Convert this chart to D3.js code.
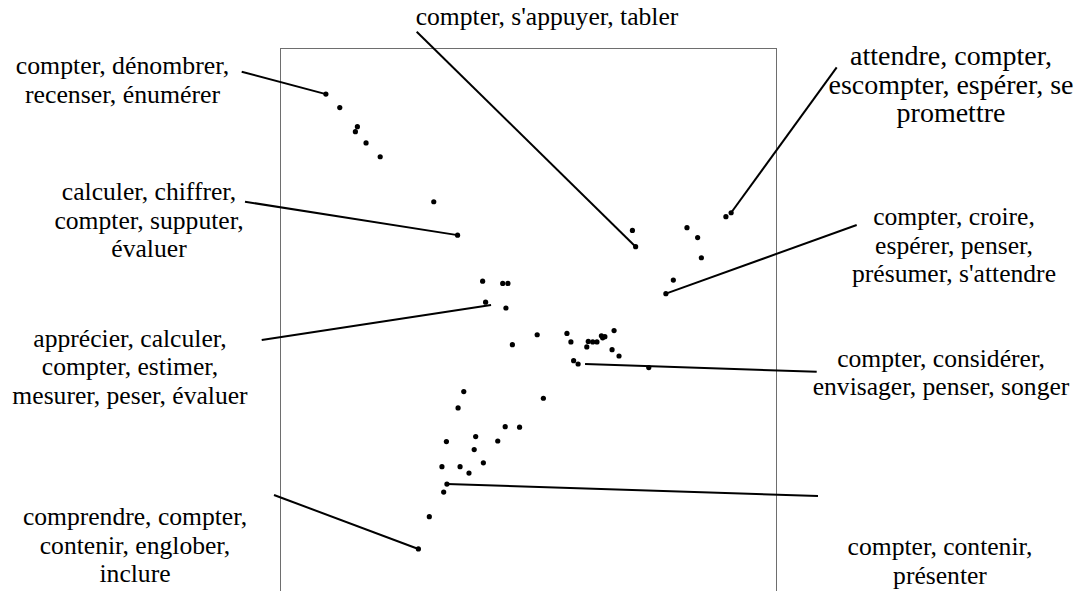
<!DOCTYPE html>
<html>
<head>
<meta charset="utf-8">
<script src="https://cdn.jsdelivr.net/npm/d3@7"></script>
<style>
  html, body { margin: 0; padding: 0; background: #fff; }
  svg { display: block; }
</style>
</head>
<body>
<div id="chart"></div>
<script>
// ---- data (two-dimensional coordinates of the verb senses) ----
const pointX = [-0.819, -0.763, -0.692, -0.700, -0.657, -0.600, -0.384, -0.288,
  0.417, 0.430, 0.637, 0.680, 0.695, 0.794, 0.815, 0.582, 0.552,
  -0.187, -0.106, -0.085, -0.175, -0.093, -0.067, 0.033,
  0.153, 0.169, 0.233, 0.239, 0.257, 0.274, 0.292, 0.306, 0.297, 0.343, 0.335, 0.363,
  0.180, 0.198, 0.483,
  -0.263, 0.058, -0.286, -0.096, -0.038, -0.333, -0.215, -0.221, -0.126,
  -0.351, -0.278, -0.242, -0.184, -0.331, -0.344, -0.402, -0.446];
const pointY = [0.833, 0.784, 0.715, 0.697, 0.656, 0.606, 0.443, 0.322,
  0.339, 0.280, 0.349, 0.313, 0.240, 0.389, 0.403, 0.159, 0.110,
  0.155, 0.147, 0.147, 0.079, 0.058, -0.075, -0.039,
  -0.034, -0.065, -0.083, -0.063, -0.065, -0.065, -0.043, -0.046, -0.050, -0.024, -0.093, -0.116,
  -0.133, -0.145, -0.158,
  -0.245, -0.269, -0.304, -0.372, -0.374, -0.426, -0.408, -0.455, -0.424,
  -0.517, -0.517, -0.540, -0.503, -0.580, -0.609, -0.698, -0.815];

// ---- annotation labels and the point each one designates ----
const labelTexts = [
  ["compter, dénombrer,", "recenser, énumérer"],
  ["calculer, chiffrer,", "compter, supputer,", "évaluer"],
  ["apprécier, calculer,", "compter, estimer,", "mesurer, peser, évaluer"],
  ["comprendre, compter,", "contenir, englober,", "inclure"],
  ["compter, s'appuyer, tabler"],
  ["attendre, compter,", "escompter, espérer, se", "promettre"],
  ["compter, croire,", "espérer, penser,", "présumer, s'attendre"],
  ["compter, considérer,", "envisager, penser, songer"],
  ["compter, contenir,", "présenter"]
];
const labelTargetX = [-0.819, -0.288, -0.153, -0.446, 0.430, 0.815, 0.552, 0.226, -0.331];
const labelTargetY = [0.833, 0.322, 0.069, -0.815, 0.280, 0.403, 0.110, -0.145, -0.580];

// ---- layout (pixels): label centre x, first baseline, leader start, font size ----
const labelLayout = [
  {cx: 122.5, y0: 74,    lx: 241.7, ly: 71.7,  fs: 25.8},
  {cx: 149,   y0: 200,   lx: 245,   ly: 201.7, fs: 25.6},
  {cx: 130,   y0: 346.7, lx: 261.7, ly: 340,   fs: 25.6},
  {cx: 135,   y0: 525,   lx: 274,   ly: 495,   fs: 25.6},
  {cx: 547,   y0: 25,    lx: 416.7, ly: 31.7,  fs: 25.6},
  {cx: 951,   y0: 65,    lx: 836.7, ly: 67.3,  fs: 28},
  {cx: 954,   y0: 225,   lx: 856.7, ly: 225,   fs: 25.6},
  {cx: 941,   y0: 366.7, lx: 816.7, ly: 371.7, fs: 25.6},
  {cx: 940,   y0: 555,   lx: 818,   ly: 496,   fs: 25.6}
];

const W = 1079, H = 591;
const lineGap = 28.6;

const svg = d3.select("#chart").append("svg")
  .attr("width", W).attr("height", H)
  .attr("viewBox", `0 0 ${W} ${H}`);

const x = d3.scaleLinear().domain([-1, 1]).range([281, 777]);
const y = d3.scaleLinear().domain([-1, 1]).range([600, 48]);

// plot frame (bottom extends past the picture)
svg.append("rect")
  .attr("x", x(-1) - 0.5).attr("y", y(1) + 0.5)
  .attr("width", x(1) - x(-1)).attr("height", y(-1) - y(1) + 10)
  .attr("fill", "none").attr("stroke", "#6e6e6e").attr("stroke-width", 1);

// leader lines
const ann = labelTexts.map((t, i) => ({lines: t, tx: labelTargetX[i], ty: labelTargetY[i], ...labelLayout[i]}));
svg.append("g").selectAll("line").data(ann).join("line")
  .attr("x1", d => d.lx).attr("y1", d => d.ly)
  .attr("x2", d => x(d.tx)).attr("y2", d => y(d.ty))
  .attr("stroke", "#000").attr("stroke-width", 2);

// points
svg.append("g").selectAll("circle").data(pointX.map((v, i) => [v, pointY[i]])).join("circle")
  .attr("cx", d => x(d[0])).attr("cy", d => y(d[1]))
  .attr("r", 2.6).attr("fill", "#000");

// labels
const lab = svg.append("g")
  .attr("font-family", "'Liberation Serif', 'Times New Roman', serif")
  .attr("fill", "#000");
ann.forEach(d => {
  const t = lab.append("text").attr("text-anchor", "middle").attr("font-size", d.fs);
  d.lines.forEach((s, k) => {
    t.append("tspan").attr("x", d.cx).attr("y", d.y0 + k * lineGap).text(s);
  });
});
</script>
</body>
</html>
